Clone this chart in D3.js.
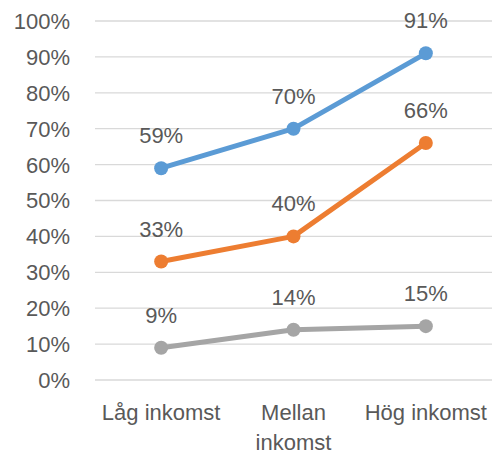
<!DOCTYPE html>
<html>
<head>
<meta charset="utf-8">
<script src="https://cdn.jsdelivr.net/npm/d3@7"></script>
<style>
  body { margin: 0; background: #fff; }
  text { font-family: "Liberation Sans", Arial, sans-serif; fill: #595959; }
</style>
</head>
<body>
<svg width="492" height="455"></svg>
<script>
var categories = [['Låg inkomst'], ['Mellan', 'inkomst'], ['Hög inkomst']];
var blueSeries = [59, 70, 91];
var orangeSeries = [33, 40, 66];
var graySeries = [9, 14, 15];
var yTicks = [0, 10, 20, 30, 40, 50, 60, 70, 80, 90, 100];

var svg = d3.select('svg');
var margin = {top: 21, right: 0, bottom: 75, left: 95};
var width = 492, height = 455;
var fontSize = 22;

var x = d3.scaleBand()
    .domain(d3.range(categories.length))
    .range([margin.left, width - margin.right]);
var y = d3.scaleLinear()
    .domain([0, 100])
    .range([height - margin.bottom, margin.top]);

// gridlines
svg.selectAll('line.grid')
    .data(yTicks).enter().append('line')
    .attr('class', 'grid')
    .attr('x1', margin.left)
    .attr('x2', width - margin.right)
    .attr('y1', function(d) { return y(d); })
    .attr('y2', function(d) { return y(d); })
    .attr('stroke', '#d9d9d9')
    .attr('stroke-width', 1.3);

// y tick labels
svg.selectAll('text.ytick')
    .data(yTicks).enter().append('text')
    .attr('class', 'ytick')
    .attr('x', 70)
    .attr('y', function(d) { return y(d); })
    .attr('dy', '0.36em')
    .attr('text-anchor', 'end')
    .style('font-size', fontSize + 'px')
    .text(function(d) { return d + '%'; });

// x labels
var xl = svg.selectAll('text.xlab')
    .data(categories).enter().append('text')
    .attr('class', 'xlab')
    .attr('text-anchor', 'middle')
    .style('font-size', fontSize + 'px');
xl.selectAll('tspan')
    .data(function(d, i) { return d.map(function(s) { return {s: s, i: i}; }); })
    .enter().append('tspan')
    .attr('x', function(d) { return x(d.i) + x.bandwidth() / 2; })
    .attr('y', function(d, j) { return 420 + j * 30; })
    .text(function(d) { return d.s; });

var line = d3.line()
    .x(function(d, i) { return x(i) + x.bandwidth() / 2; })
    .y(function(d) { return y(d); });

var series = [
    {values: graySeries, color: '#a5a5a5'},
    {values: orangeSeries, color: '#ed7d31'},
    {values: blueSeries, color: '#5b9bd5'}
];

series.forEach(function(s) {
    svg.append('path')
        .datum(s.values)
        .attr('fill', 'none')
        .attr('stroke', s.color)
        .attr('stroke-width', 5)
        .attr('stroke-linejoin', 'round')
        .attr('d', line);
    svg.selectAll(null)
        .data(s.values).enter().append('circle')
        .attr('cx', function(d, i) { return x(i) + x.bandwidth() / 2; })
        .attr('cy', function(d) { return y(d); })
        .attr('r', 7)
        .attr('fill', s.color);
    svg.selectAll(null)
        .data(s.values).enter().append('text')
        .attr('x', function(d, i) { return x(i) + x.bandwidth() / 2; })
        .attr('y', function(d) { return y(d) - 25; })
        .attr('text-anchor', 'middle')
        .style('font-size', fontSize + 'px')
        .text(function(d) { return d + '%'; });
});
</script>
</body>
</html>
